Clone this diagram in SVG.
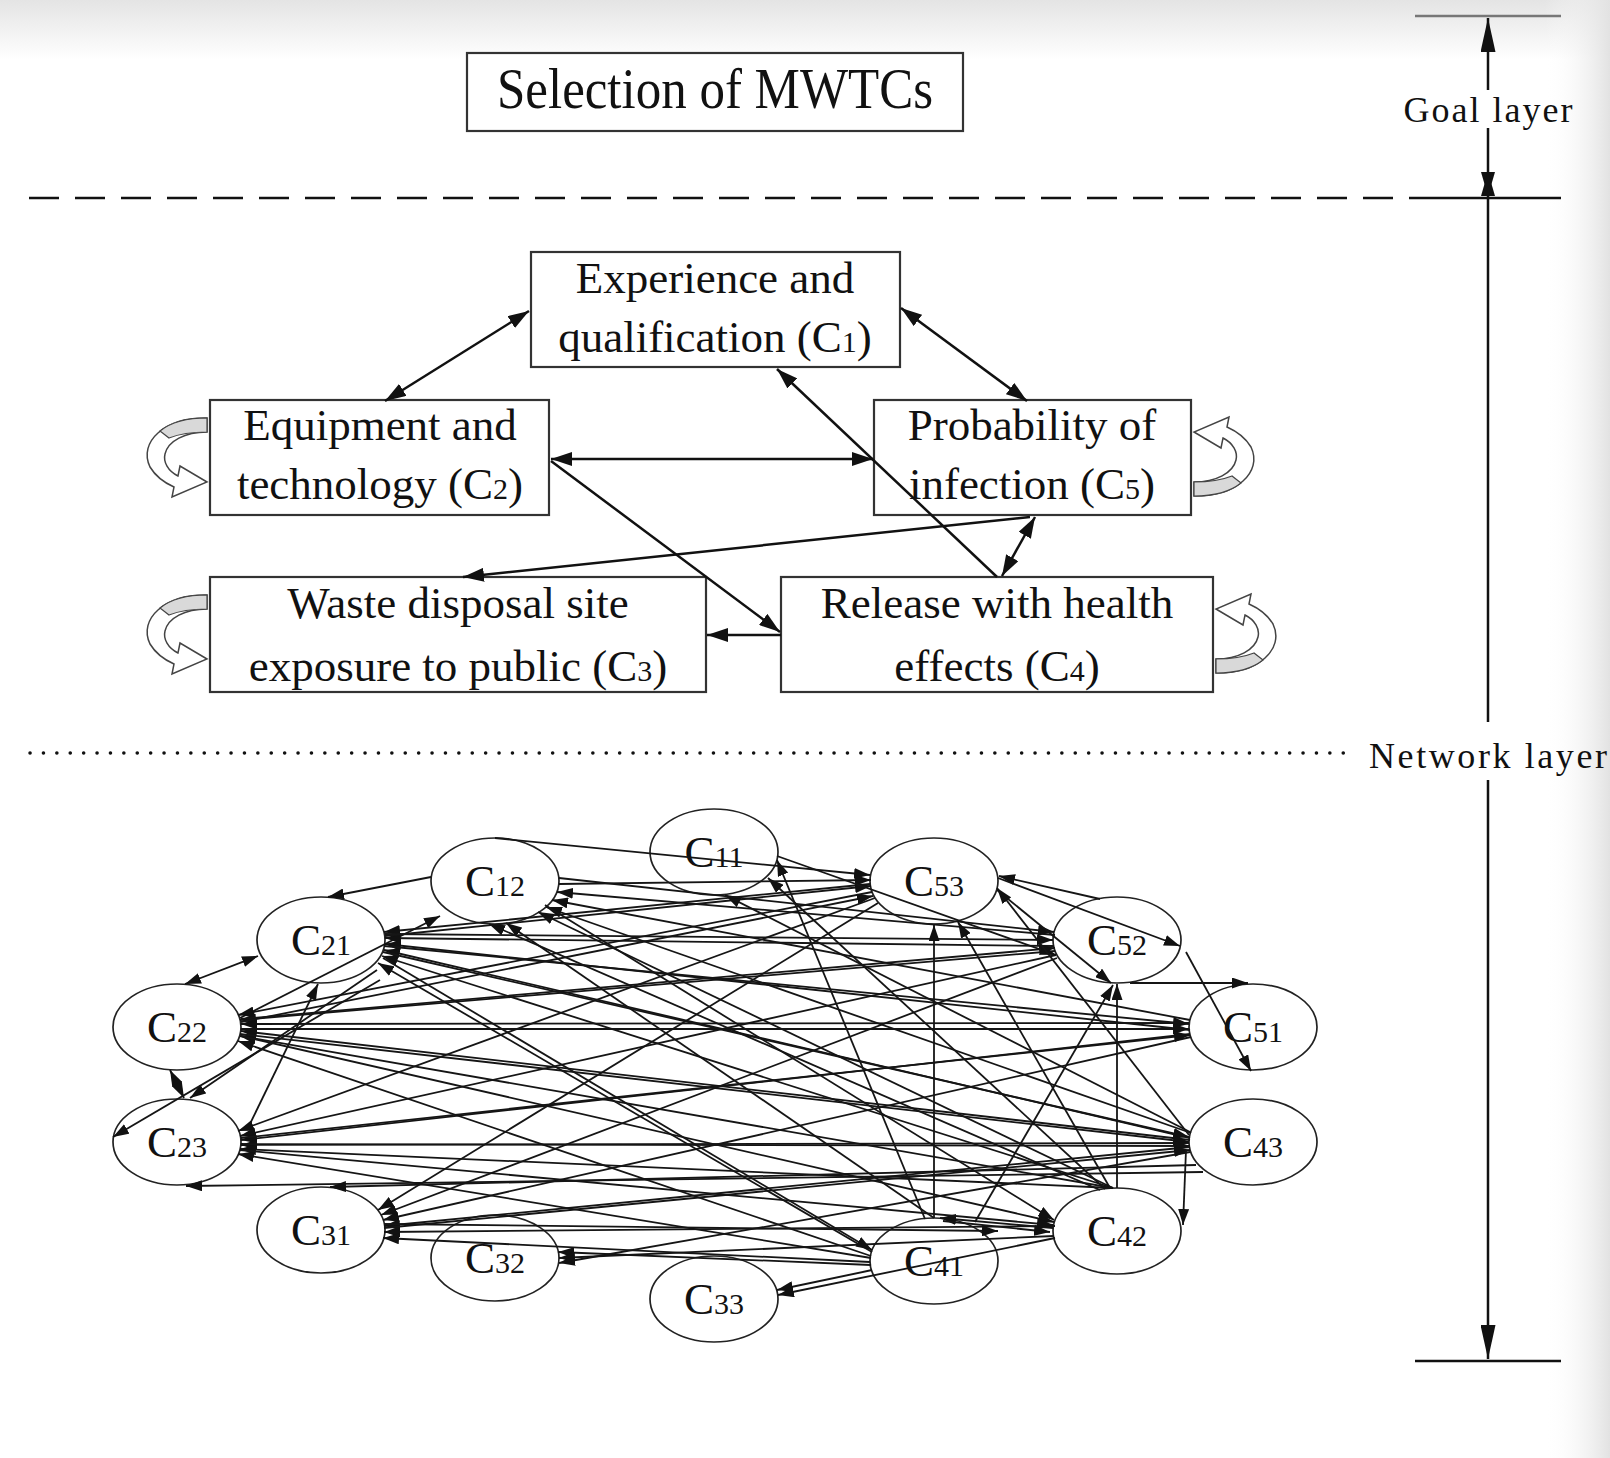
<svg xmlns="http://www.w3.org/2000/svg" width="1610" height="1458" viewBox="0 0 1610 1458">
<style>
.bx{fill:#fff;stroke:#333;stroke-width:2.2}
.t{font-family:"Liberation Serif","Times New Roman",serif;fill:#111}
.c{stroke:#111;stroke-width:2.5;fill:none}
.n{stroke:#151515;stroke-width:1.8;fill:none;marker-end:url(#an)}
.el{fill:#fff;stroke:#222;stroke-width:1.7}
.ax{stroke:#111;stroke-width:2.5;fill:none}
.lp{fill:#fff;stroke:#444;stroke-width:1.5}
.lg{fill:#d9d9d9;stroke:#444;stroke-width:1.2}
</style>
<defs>
<linearGradient id="gt" x1="0" y1="0" x2="0" y2="1"><stop offset="0" stop-color="#e4e4e4"/><stop offset="1" stop-color="#ffffff"/></linearGradient>
<linearGradient id="gr" x1="0" y1="0" x2="1" y2="0"><stop offset="0" stop-color="#ffffff" stop-opacity="0"/><stop offset="1" stop-color="#e2e2e2"/></linearGradient>
<marker id="au" viewBox="0 0 10 10" refX="10" refY="5" markerWidth="21" markerHeight="14" markerUnits="userSpaceOnUse" orient="auto-start-reverse" preserveAspectRatio="none"><path d="M0,0 L10,5 L0,10 z" fill="#111"/></marker>
<marker id="an" viewBox="0 0 10 10" refX="10" refY="5" markerWidth="16" markerHeight="11" markerUnits="userSpaceOnUse" orient="auto-start-reverse" preserveAspectRatio="none"><path d="M0,0 L10,5 L0,10 z" fill="#111"/></marker>
<marker id="ax" viewBox="0 0 10 10" refX="10" refY="5" markerWidth="34" markerHeight="15" markerUnits="userSpaceOnUse" orient="auto" preserveAspectRatio="none"><path d="M0,0 L10,5 L0,10 z" fill="#111"/></marker>
<marker id="ax2" viewBox="0 0 10 10" refX="10" refY="5" markerWidth="24" markerHeight="14" markerUnits="userSpaceOnUse" orient="auto" preserveAspectRatio="none"><path d="M0,0 L10,5 L0,10 z" fill="#111"/></marker>
<g id="loop">
<path class="lp" d="M -3,-39 C -45,-40 -72,-15 -60,10 C -54,20 -45,26 -36,30 L -38,40 L -3,25 L -30,9 L -32,19 C -42,14 -47,5 -45,-3 C -42,-16 -25,-25 -3,-25 Z"/>
<path class="lg" d="M -3,-39 C -25,-39 -40,-34 -50,-26 L -41,-19 C -31,-23 -18,-25 -3,-25 Z"/>
</g>
</defs>
<rect width="1610" height="1458" fill="#fff"/>
<rect width="1610" height="60" fill="url(#gt)"/>
<rect x="1545" width="65" height="1458" fill="url(#gr)"/>

<g id="layers">
<line x1="29" y1="198" x2="1415" y2="198" stroke="#111" stroke-width="2.5" stroke-dasharray="30 16"/>
<line x1="1415" y1="198" x2="1561" y2="198" stroke="#111" stroke-width="2.5"/>
<line x1="30" y1="753" x2="1352" y2="753" stroke="#111" stroke-width="3.5" stroke-linecap="round" stroke-dasharray="0.1 13.3"/>
<line x1="1415" y1="16" x2="1561" y2="16" stroke="#777" stroke-width="2.5"/>
<line x1="1415" y1="1361" x2="1561" y2="1361" stroke="#111" stroke-width="2.5"/>
<line class="ax" x1="1488" y1="90" x2="1488" y2="18" marker-end="url(#ax)"/>
<line class="ax" x1="1488" y1="128" x2="1488" y2="196" marker-end="url(#ax2)"/>
<line class="ax" x1="1488" y1="722" x2="1488" y2="172" marker-end="url(#ax2)"/>
<line class="ax" x1="1488" y1="780" x2="1488" y2="1359" marker-end="url(#ax)"/>
<text class="t" x="1488" y="122" font-size="36" text-anchor="middle" textLength="169">Goal layer</text>
<text class="t" x="1488" y="768" font-size="36" text-anchor="middle" textLength="238">Network layer</text>
</g>

<g id="goal">
<rect class="bx" x="467" y="53" width="496" height="78"/>
<text class="t" x="715" y="108" font-size="58" text-anchor="middle" textLength="436" lengthAdjust="spacingAndGlyphs">Selection of MWTCs</text>
</g>

<g id="C1">
<rect class="bx" x="531" y="252" width="369" height="115"/>
<text class="t" x="715" y="293" font-size="45" text-anchor="middle">Experience and</text>
<text class="t" x="715" y="352" font-size="45" text-anchor="middle">qualification (C<tspan font-size="30">1</tspan>)</text>
</g>
<g id="C2">
<use href="#loop" transform="translate(210,457)"/>
<rect class="bx" x="210" y="400" width="339" height="115"/>
<text class="t" x="380" y="440" font-size="45" text-anchor="middle">Equipment and</text>
<text class="t" x="380" y="499" font-size="45" text-anchor="middle">technology (C<tspan font-size="30">2</tspan>)</text>
</g>
<g id="C5">
<use href="#loop" transform="translate(1191,457) rotate(180)"/>
<rect class="bx" x="874" y="400" width="317" height="115"/>
<text class="t" x="1032" y="440" font-size="45" text-anchor="middle">Probability of</text>
<text class="t" x="1032" y="499" font-size="45" text-anchor="middle">infection (C<tspan font-size="30">5</tspan>)</text>
</g>
<g id="C3">
<use href="#loop" transform="translate(210,634)"/>
<rect class="bx" x="210" y="577" width="496" height="115"/>
<text class="t" x="458" y="618" font-size="45" text-anchor="middle">Waste disposal site</text>
<text class="t" x="458" y="681" font-size="45" text-anchor="middle">exposure to public (C<tspan font-size="30">3</tspan>)</text>
</g>
<g id="C4">
<use href="#loop" transform="translate(1213,634) rotate(180)"/>
<rect class="bx" x="781" y="577" width="432" height="115"/>
<text class="t" x="997" y="618" font-size="45" text-anchor="middle">Release with health</text>
<text class="t" x="997" y="681" font-size="45" text-anchor="middle">effects (C<tspan font-size="30">4</tspan>)</text>
</g>

<g id="criteria-connectors">
<line class="c" x1="529" y1="311" x2="385" y2="401" marker-start="url(#au)" marker-end="url(#au)"/>
<line class="c" x1="901" y1="308" x2="1027" y2="401" marker-start="url(#au)" marker-end="url(#au)"/>
<line class="c" x1="551" y1="459" x2="873" y2="459" marker-start="url(#au)" marker-end="url(#au)"/>
<line class="c" x1="997" y1="577" x2="777" y2="369" marker-end="url(#au)"/>
<line class="c" x1="1035" y1="517" x2="1002" y2="576" marker-start="url(#au)" marker-end="url(#au)"/>
<line class="c" x1="1030" y1="517" x2="463" y2="577" marker-end="url(#au)"/>
<line class="c" x1="551" y1="461" x2="780" y2="632" marker-end="url(#au)"/>
<line class="c" x1="781" y1="635" x2="707" y2="635" marker-end="url(#au)"/>
</g>

<g id="C11"><ellipse class="el" cx="714" cy="852" rx="64" ry="43"/><text class="t" x="714" y="867" text-anchor="middle"><tspan font-size="45">C</tspan><tspan font-size="30">11</tspan></text></g>
<g id="C12"><ellipse class="el" cx="495" cy="881" rx="64" ry="43"/><text class="t" x="495" y="896" text-anchor="middle"><tspan font-size="45">C</tspan><tspan font-size="30">12</tspan></text></g>
<g id="C21"><ellipse class="el" cx="321" cy="940" rx="64" ry="43"/><text class="t" x="321" y="955" text-anchor="middle"><tspan font-size="45">C</tspan><tspan font-size="30">21</tspan></text></g>
<g id="C22"><ellipse class="el" cx="177" cy="1027" rx="64" ry="43"/><text class="t" x="177" y="1042" text-anchor="middle"><tspan font-size="45">C</tspan><tspan font-size="30">22</tspan></text></g>
<g id="C23"><ellipse class="el" cx="177" cy="1142" rx="64" ry="43"/><text class="t" x="177" y="1157" text-anchor="middle"><tspan font-size="45">C</tspan><tspan font-size="30">23</tspan></text></g>
<g id="C31"><ellipse class="el" cx="321" cy="1230" rx="64" ry="43"/><text class="t" x="321" y="1245" text-anchor="middle"><tspan font-size="45">C</tspan><tspan font-size="30">31</tspan></text></g>
<g id="C32"><ellipse class="el" cx="495" cy="1258" rx="64" ry="43"/><text class="t" x="495" y="1273" text-anchor="middle"><tspan font-size="45">C</tspan><tspan font-size="30">32</tspan></text></g>
<g id="C33"><ellipse class="el" cx="714" cy="1299" rx="64" ry="43"/><text class="t" x="714" y="1314" text-anchor="middle"><tspan font-size="45">C</tspan><tspan font-size="30">33</tspan></text></g>
<g id="C41"><ellipse class="el" cx="934" cy="1261" rx="64" ry="43"/><text class="t" x="934" y="1276" text-anchor="middle"><tspan font-size="45">C</tspan><tspan font-size="30">41</tspan></text></g>
<g id="C42"><ellipse class="el" cx="1117" cy="1231" rx="64" ry="43"/><text class="t" x="1117" y="1246" text-anchor="middle"><tspan font-size="45">C</tspan><tspan font-size="30">42</tspan></text></g>
<g id="C43"><ellipse class="el" cx="1253" cy="1142" rx="64" ry="43"/><text class="t" x="1253" y="1157" text-anchor="middle"><tspan font-size="45">C</tspan><tspan font-size="30">43</tspan></text></g>
<g id="C51"><ellipse class="el" cx="1253" cy="1027" rx="64" ry="43"/><text class="t" x="1253" y="1042" text-anchor="middle"><tspan font-size="45">C</tspan><tspan font-size="30">51</tspan></text></g>
<g id="C52"><ellipse class="el" cx="1117" cy="940" rx="64" ry="43"/><text class="t" x="1117" y="955" text-anchor="middle"><tspan font-size="45">C</tspan><tspan font-size="30">52</tspan></text></g>
<g id="C53"><ellipse class="el" cx="934" cy="881" rx="64" ry="43"/><text class="t" x="934" y="896" text-anchor="middle"><tspan font-size="45">C</tspan><tspan font-size="30">53</tspan></text></g>

<g id="network-connectors">
<line class="n" x1="431" y1="877" x2="328" y2="897"/>
<line class="n" x1="258" y1="956" x2="185" y2="984" marker-start="url(#an)"/>
<line class="n" x1="170" y1="1070" x2="184" y2="1098" marker-start="url(#an)"/>
<line class="n" x1="377" y1="970" x2="190" y2="1098"/>
<line class="n" x1="380" y1="980" x2="113" y2="1137"/>
<line class="n" x1="248" y1="1128" x2="318" y2="984"/>
<line class="n" x1="240" y1="1018" x2="440" y2="916"/>
<line class="n" x1="870" y1="884" x2="384" y2="932"/>
<line class="n" x1="1054" y1="946" x2="385" y2="938"/>
<line class="n" x1="1190" y1="1030" x2="385" y2="944"/>
<line class="n" x1="1190" y1="1138" x2="384" y2="950"/>
<line class="n" x1="1113" y1="1188" x2="382" y2="956"/>
<line class="n" x1="872" y1="1252" x2="378" y2="963"/>
<line class="n" x1="872" y1="892" x2="238" y2="1015"/>
<line class="n" x1="1055" y1="951" x2="240" y2="1020"/>
<line class="n" x1="1189" y1="1023" x2="241" y2="1024"/>
<line class="n" x1="1190" y1="1140" x2="241" y2="1031"/>
<line class="n" x1="1113" y1="1188" x2="240" y2="1036"/>
<line class="n" x1="871" y1="1256" x2="238" y2="1041"/>
<line class="n" x1="875" y1="898" x2="238" y2="1131"/>
<line class="n" x1="1056" y1="955" x2="240" y2="1136"/>
<line class="n" x1="1190" y1="1034" x2="241" y2="1140"/>
<line class="n" x1="1189" y1="1143" x2="241" y2="1145"/>
<line class="n" x1="1113" y1="1188" x2="240" y2="1149"/>
<line class="n" x1="871" y1="1258" x2="238" y2="1154"/>
<line class="n" x1="878" y1="903" x2="378" y2="1210"/>
<line class="n" x1="1057" y1="958" x2="381" y2="1215"/>
<line class="n" x1="1191" y1="1037" x2="383" y2="1220"/>
<line class="n" x1="1190" y1="1147" x2="384" y2="1226"/>
<line class="n" x1="1055" y1="1226" x2="384" y2="1232"/>
<line class="n" x1="870" y1="1262" x2="383" y2="1238"/>
<line class="n" x1="1055" y1="935" x2="557" y2="892"/>
<line class="n" x1="1190" y1="1020" x2="552" y2="900"/>
<line class="n" x1="1191" y1="1133" x2="546" y2="907"/>
<line class="n" x1="1113" y1="1188" x2="538" y2="912"/>
<line class="n" x1="934" y1="1218" x2="506" y2="923"/>
<line class="n" x1="1100" y1="1190" x2="489" y2="924"/>
<line class="n" x1="871" y1="1265" x2="558" y2="1252"/>
<line class="n" x1="1054" y1="1236" x2="559" y2="1258"/>
<line class="n" x1="1190" y1="1152" x2="559" y2="1263"/>
<line class="n" x1="872" y1="1270" x2="777" y2="1290"/>
<line class="n" x1="1055" y1="1238" x2="778" y2="1295"/>
<line class="n" x1="925" y1="1219" x2="777" y2="860"/>
<line class="n" x1="1105" y1="1189" x2="768" y2="878"/>
<line class="n" x1="1190" y1="1132" x2="725" y2="895"/>
<line class="n" x1="495" y1="838" x2="870" y2="875"/>
<line class="n" x1="385" y1="936" x2="871" y2="886"/>
<line class="n" x1="241" y1="1022" x2="873" y2="896"/>
<line class="n" x1="559" y1="884" x2="871" y2="880"/>
<line class="n" x1="559" y1="878" x2="1054" y2="932"/>
<line class="n" x1="385" y1="934" x2="1053" y2="940"/>
<line class="n" x1="241" y1="1019" x2="1055" y2="948"/>
<line class="n" x1="777" y1="856" x2="1056" y2="955"/>
<line class="n" x1="384" y1="946" x2="1189" y2="1024"/>
<line class="n" x1="241" y1="1029" x2="1189" y2="1029"/>
<line class="n" x1="241" y1="1138" x2="1190" y2="1035"/>
<line class="n" x1="383" y1="952" x2="1189" y2="1137"/>
<line class="n" x1="240" y1="1034" x2="1189" y2="1142"/>
<line class="n" x1="241" y1="1144" x2="1190" y2="1146"/>
<line class="n" x1="384" y1="1228" x2="1190" y2="1150"/>
<line class="n" x1="934" y1="1218" x2="934" y2="925"/>
<line class="n" x1="1110" y1="1188" x2="958" y2="922"/>
<line class="n" x1="1117" y1="1188" x2="1117" y2="984"/>
<line class="n" x1="997" y1="890" x2="1111" y2="983"/>
<line class="n" x1="975" y1="1222" x2="1113" y2="985"/>
<line class="n" x1="1100" y1="899" x2="999" y2="876"/>
<line class="n" x1="1189" y1="1135" x2="997" y2="888"/>
<line class="n" x1="998" y1="878" x2="1180" y2="946"/>
<line class="n" x1="1186" y1="952" x2="1251" y2="1071"/>
<line class="n" x1="1130" y1="983" x2="1248" y2="983"/>
<line class="n" x1="1186" y1="1150" x2="1183" y2="1225"/>
<line class="n" x1="1053" y1="1228" x2="940" y2="1218"/>
<line class="n" x1="943" y1="1221" x2="1050" y2="1232"/>
<line class="n" x1="384" y1="1224" x2="998" y2="1231"/>
<line class="n" x1="241" y1="1036" x2="1054" y2="1222"/>
<line class="n" x1="240" y1="1150" x2="1053" y2="1225"/>
<line class="n" x1="1203" y1="1172" x2="186" y2="1186"/>
<line class="n" x1="1196" y1="1165" x2="330" y2="1187"/>
<line class="n" x1="545" y1="905" x2="1054" y2="1220"/>
<line class="n" x1="383" y1="958" x2="872" y2="1250"/>
</g>
</svg>
